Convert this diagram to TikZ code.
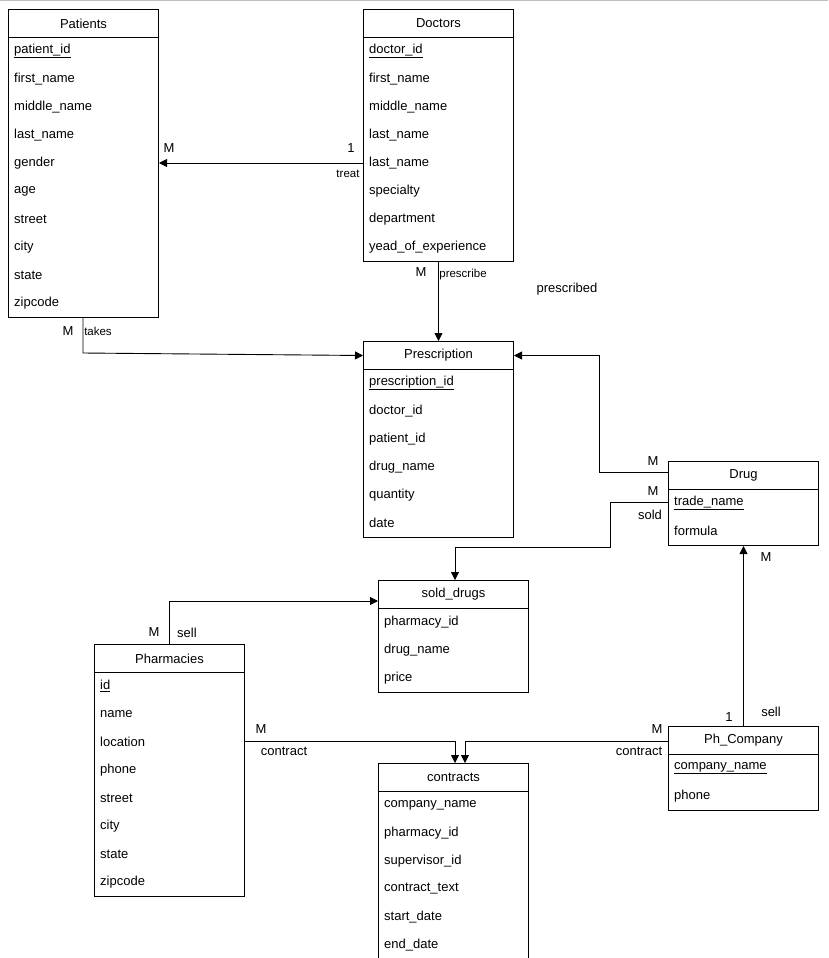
\documentclass[tikz,border=0pt]{standalone}
\usepackage{fontspec}
\setmainfont{Liberation Sans}
\usetikzlibrary{calc,arrows.meta}
\newcommand\ertable[6]{% name, x, y, title, nrows, rows
  \node[hdr,anchor=north west] (#1) at (#2,#3) {#4};
  \node[bdy,anchor=north west,minimum height={28*#5}] (#1b) at (#2,#3+28) {};
  \foreach \t [count=\i] in {#6} \node[row] (#1r\i) at ({#2+6},{#3+14+28*\i}) {\t};
}
\begin{document}
\begin{tikzpicture}[x=1pt,y=-1pt,
  hdr/.style={draw,line width=1pt,minimum width=150,minimum height=28,inner sep=0,font=\fontsize{13}{15}\selectfont},
  bdy/.style={draw,line width=1pt,minimum width=150,inner sep=0},
  row/.style={anchor=west,inner sep=0,font=\fontsize{13}{15}\selectfont},
  lbl/.style={inner sep=0,font=\fontsize{13}{15}\selectfont},
  sm/.style={inner sep=0,font=\fontsize{11.5}{13}\selectfont},
  con/.style={line width=0.9pt,-{Triangle[length=8pt,width=8pt]}},
  pk/.style={}]
\useasboundingbox (0,0) rectangle (828,958);
\draw[gray!50,line width=1pt] (0,0.5) -- (828,0.5);
\ertable{pat}{8}{9}{Patients}{10}{\underline{patient\_id},first\_name,middle\_name,last\_name,gender,age,street,city,state,zipcode}
\ertable{doc}{363}{9}{Doctors}{8}{\underline{doctor\_id},first\_name,middle\_name,last\_name,last\_name,specialty,department,yead\_of\_experience}
\ertable{pre}{363}{341}{Prescription}{6}{\underline{prescription\_id},doctor\_id,patient\_id,drug\_name,quantity,date}
\ertable{drg}{668}{461}{Drug}{2}{\underline{trade\_name},formula}
\ertable{sld}{378}{580}{sold\_drugs}{3}{pharmacy\_id,drug\_name,price}
\ertable{pha}{94}{644}{Pharmacies}{8}{\underline{id},name,location,phone,street,city,state,zipcode}
\ertable{ctr}{378}{763}{contracts}{6}{company\_name,pharmacy\_id,supervisor\_id,contract\_text,start\_date,end\_date}
\ertable{phc}{668}{726}{Ph\_Company}{2}{\underline{company\_name},phone}
% treat
\draw[con] (doc.west |- docr5) -- (patb.east |- docr5);
\node[lbl] at (169,148) {M}; \node[lbl] at (351,148) {1}; \node[sm] at (348,174) {treat};
% prescribe
\draw[con] (docb.south) -- (pre.north);
\node[lbl] at (421,272) {M}; \node[sm] at (463,275) {prescribe};
\node[lbl] at (567,289) {prescribed};
% takes
\coordinate (tk) at (83,353);
\draw[con] (patb.south -| tk) -- (tk) -- (pre.west);
\node[lbl] at (68,331) {M}; \node[sm] at (98,331) {takes};
% drug prescribed
\coordinate (dp) at (599,472);
\draw[con] (drg.west |- dp) -- (dp) -- (dp |- pre) -- (pre.east);
\node[lbl] at (653,461) {M};
% sold
\coordinate (sd1) at (610,502); \coordinate (sd2) at (455,547);
\draw[con] (drgb.west |- sd1) -- (sd1) -- (sd1 |- sd2) -- (sd2) -- (sd2 |- sld.north);
\node[lbl] at (653,491) {M}; \node[lbl] at (650,515) {sold};
% pharmacy sell
\coordinate (ps) at (169,601);
\draw[con] (pha.north -| ps) -- (ps) -- (sld.west |- ps);
\node[lbl] at (154,632) {M}; \node[lbl] at (187,633) {sell};
% contracts
\coordinate (c1) at (455,741); \coordinate (c2) at (465,741);
\draw[con] (phab.east |- c1) -- (c1) -- (c1 |- ctr.north);
\draw[con] (phc.west |- c2) -- (c2) -- (c2 |- ctr.north);
\node[lbl] at (261,729) {M}; \node[lbl] at (284,751) {contract};
\node[lbl] at (657,729) {M}; \node[lbl] at (639,751) {contract};
% company sell
\draw[con] (phc.north -| drgb.south) -- (drgb.south);
\node[lbl] at (729,717) {1}; \node[lbl] at (771,712) {sell}; \node[lbl] at (766,557) {M};
\end{tikzpicture}
\end{document}
